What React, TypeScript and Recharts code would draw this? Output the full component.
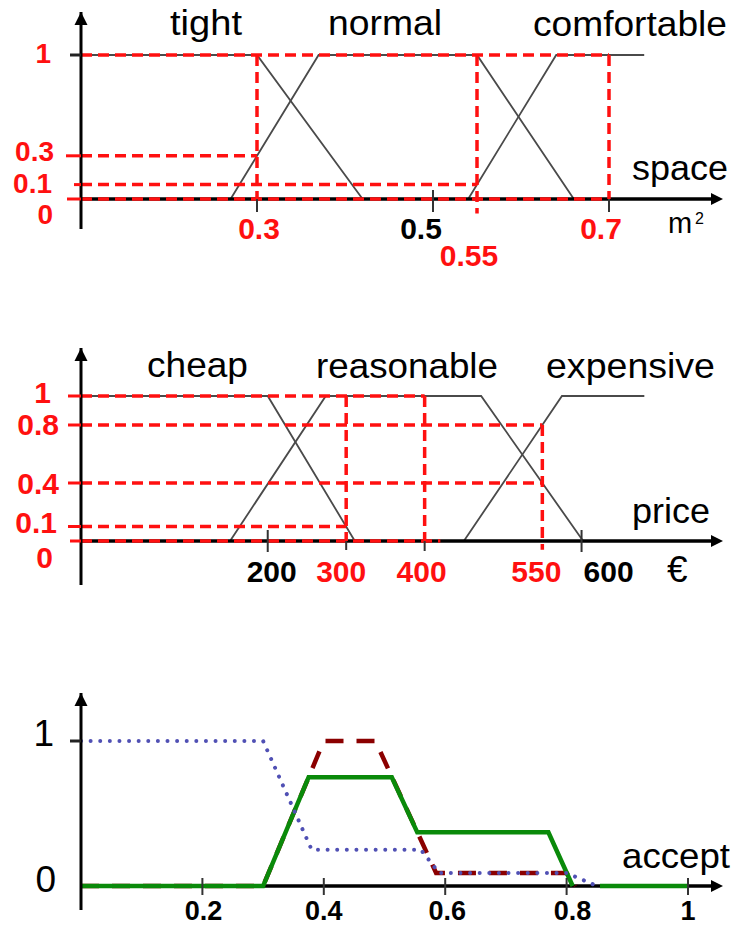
import React from 'react';
import { LineChart, Line, XAxis, YAxis, ReferenceDot } from 'recharts';

type P = { x: number; y: number | null };

// ---------------- space (m²) ----------------
const spaceTerms = ['tight', 'normal', 'comfortable'];
const spaceVar = 'space';
const spaceXTicks = [0.3, 0.5, 0.55, 0.7];
const spaceYTicks = [0, 0.1, 0.3, 1];
const spaceTight: P[] = [{ x: 0.1, y: 1 }, { x: 0.3, y: 1 }, { x: 0.42, y: 0 }];
const spaceNormal: P[] = [{ x: 0.27, y: 0 }, { x: 0.37, y: 1 }, { x: 0.55, y: 1 }, { x: 0.66, y: 0 }];
const spaceComfortable: P[] = [{ x: 0.54, y: 0 }, { x: 0.64, y: 1 }, { x: 0.74, y: 1 }];
const spaceGuides: P[][] = [
  [{ x: 0.1, y: 1 }, { x: 0.7, y: 1 }],
  [{ x: 0.1, y: 0.3 }, { x: 0.3, y: 0.3 }],
  [{ x: 0.1, y: 0.1 }, { x: 0.55, y: 0.1 }],
  [{ x: 0.1, y: 0 }, { x: 0.7, y: 0 }],
  [{ x: 0.3, y: 1 }, { x: 0.3, y: 0 }],
  [{ x: 0.55, y: 1 }, { x: 0.55, y: -0.1 }],
  [{ x: 0.7, y: 1 }, { x: 0.7, y: 0 }],
];

// ---------------- price (€) ----------------
const priceTerms = ['cheap', 'reasonable', 'expensive'];
const priceVar = 'price';
const priceXTicks = [200, 300, 400, 550, 600];
const priceYTicks = [0, 0.1, 0.4, 0.8, 1];
const priceCheap: P[] = [{ x: -38, y: 1 }, { x: 200, y: 1 }, { x: 311, y: 0 }];
const priceReasonable: P[] = [{ x: 152, y: 0 }, { x: 274, y: 1 }, { x: 472, y: 1 }, { x: 602, y: 0 }];
const priceExpensive: P[] = [{ x: 450, y: 0 }, { x: 575, y: 1 }, { x: 680, y: 1 }];
const priceGuides: P[][] = [
  [{ x: -38, y: 1 }, { x: 400, y: 1 }],
  [{ x: -38, y: 0.8 }, { x: 550, y: 0.8 }],
  [{ x: -38, y: 0.4 }, { x: 550, y: 0.4 }],
  [{ x: -38, y: 0.1 }, { x: 300, y: 0.1 }],
  [{ x: -38, y: 0 }, { x: 420, y: 0 }],
  [{ x: 300, y: 1 }, { x: 300, y: 0 }],
  [{ x: 400, y: 1 }, { x: 400, y: 0 }],
  [{ x: 550, y: 0.8 }, { x: 550, y: -0.06 }],
];

// ---------------- accept ----------------
const acceptVar = 'accept';
const acceptXTicks = [0.2, 0.4, 0.6, 0.8, 1];
const acceptYTicks = [0, 1];
const acceptBlue: P[] = [
  { x: 0, y: 1 }, { x: 0.3, y: 1 }, { x: 0.38, y: 0.25 }, { x: 0.56, y: 0.25 },
  { x: 0.59, y: 0.09 }, { x: 0.8, y: 0.09 }, { x: 0.85, y: 0 },
];
const acceptRed: P[] = [
  { x: 0, y: 0 }, { x: 0.3, y: 0 }, { x: 0.4, y: 1 }, { x: 0.485, y: 1 },
  { x: 0.585, y: 0.09 }, { x: 0.8, y: 0.09 }, { x: 0.815, y: 0 },
];
const acceptGreen: P[] = [
  { x: 0, y: 0 }, { x: 0.3, y: 0 }, { x: 0.375, y: 0.75 }, { x: 0.512, y: 0.75 },
  { x: 0.554, y: 0.37 }, { x: 0.77, y: 0.37 }, { x: 0.81, y: 0 },
  { x: 0.835, y: null }, { x: 0.855, y: 0 }, { x: 1.0, y: 0 },
];

// ---------------- styling / layout ----------------
const FONT = '"Liberation Sans", Arial, Helvetica, sans-serif';
const RED = '#ff1010';
const MF = '#4a4a4a';
const W = 731;
const YLAB_FS = 30;
const YLAB_FS1 = 28;

type XTS = { color: string; dx: number; cy: number; up: number; down: number; size: number };
type YTS = { color: string; end: number; dy: number; stub: number; stubColor: string; bold: boolean; size: number };

const C1 = { top: 0, height: 290, plotTop: 12, plotBottom: 229, zeroY: 199, xDomain: [0.1, 0.8284], yDomain: [-0.2083, 1.2986] };
const C2 = { top: 290, height: 320, plotTop: 348, plotBottom: 585, zeroY: 541, xDomain: [-38, 779], yDomain: [-0.3034, 1.331] };
const C3 = { top: 610, height: 317, plotTop: 693, plotBottom: 910, zeroY: 886, xDomain: [0, 1.056], yDomain: [-0.1655, 1.331] };

const spaceXStyle: Record<string, XTS> = {
  '0.3': { color: RED, dx: 2, cy: 228, up: 0, down: 13, size: 30 },
  '0.5': { color: '#000', dx: -12, cy: 228, up: 9, down: 13, size: 30 },
  '0.55': { color: RED, dx: -8, cy: 255, up: 0, down: 0, size: 30 },
  '0.7': { color: RED, dx: -8, cy: 228, up: 0, down: 13, size: 30 },
};
const priceXStyle: Record<string, XTS> = {
  '200': { color: '#000', dx: 4, cy: 571, up: 11, down: 11, size: 30 },
  '300': { color: RED, dx: -5, cy: 571, up: 0, down: 9, size: 30 },
  '400': { color: RED, dx: -3, cy: 571, up: 0, down: 10, size: 30 },
  '550': { color: RED, dx: -6, cy: 571, up: 0, down: 0, size: 30 },
  '600': { color: '#000', dx: 27, cy: 571, up: 11, down: 11, size: 30 },
};
const acceptXStyle: Record<string, XTS> = {
  '0.2': { color: '#000', dx: 1, cy: 910, up: 8, down: 9, size: 27 },
  '0.4': { color: '#000', dx: 0, cy: 910, up: 8, down: 9, size: 27 },
  '0.6': { color: '#000', dx: 2, cy: 910, up: 8, down: 9, size: 27 },
  '0.8': { color: '#000', dx: 6, cy: 910, up: 8, down: 9, size: 27 },
  '1': { color: '#000', dx: 0, cy: 910, up: 8, down: 9, size: 27 },
};

const spaceYStyle: Record<string, YTS> = {
  '1': { color: RED, end: 51, dy: 8, stub: 70, stubColor: '#222', bold: true, size: YLAB_FS1 },
  '0.3': { color: RED, end: 54, dy: 5, stub: 66, stubColor: RED, bold: true, size: YLAB_FS1 },
  '0.1': { color: RED, end: 52, dy: 8, stub: 74, stubColor: RED, bold: true, size: YLAB_FS1 },
  '0': { color: RED, end: 53, dy: 25, stub: 67, stubColor: RED, bold: true, size: YLAB_FS1 },
};
const priceYStyle: Record<string, YTS> = {
  '1': { color: RED, end: 51, dy: 7, stub: 68, stubColor: RED, bold: true, size: YLAB_FS },
  '0.8': { color: RED, end: 59, dy: 10, stub: 68, stubColor: RED, bold: true, size: YLAB_FS },
  '0.4': { color: RED, end: 59, dy: 11, stub: 68, stubColor: RED, bold: true, size: YLAB_FS },
  '0.1': { color: RED, end: 57, dy: 6, stub: 68, stubColor: RED, bold: true, size: YLAB_FS },
  '0': { color: RED, end: 53, dy: 27, stub: 70, stubColor: RED, bold: true, size: YLAB_FS },
};
const acceptYStyle: Record<string, YTS> = {
  '1': { color: '#000', end: 54, dy: 5, stub: 70, stubColor: '#222', bold: false, size: 37 },
  '0': { color: '#000', end: 56, dy: 6, stub: 81, stubColor: '#000', bold: false, size: 37 },
};

function makeXTick(styles: Record<string, XTS>, top: number, zeroY: number) {
  return (props: any) => {
    const { x, payload } = props;
    const key = String(payload.value);
    const s = styles[key];
    if (!s) return <g />;
    const zy = zeroY - top;
    return (
      <g>
        {s.up + s.down > 0 && (
          <line x1={x} x2={x} y1={zy - s.up} y2={zy + s.down} stroke="#333" strokeWidth={2} />
        )}
        <text x={x + s.dx} y={s.cy - top + s.size * 0.36} textAnchor="middle" fill={s.color} fontSize={s.size}
          fontWeight="bold" fontFamily={FONT}>{key}</text>
      </g>
    );
  };
}

function makeYTick(styles: Record<string, YTS>) {
  return (props: any) => {
    const { y, payload } = props;
    const key = String(payload.value);
    const s = styles[key];
    if (!s) return <g />;
    return (
      <g>
        {s.stub < 80 && <line x1={s.stub} x2={81} y1={y} y2={y} stroke={s.stubColor} strokeWidth={3} />}
        <text x={s.end} y={y + s.dy} textAnchor="end" fill={s.color} fontSize={s.size}
          fontWeight={s.bold ? 'bold' : 'normal'} fontFamily={FONT}>{key}</text>
      </g>
    );
  };
}

const ArrowUp = (p: any) => (
  <path d={`M${p.cx},${p.cy} L${p.cx - 6.5},${p.cy + 13} L${p.cx + 6.5},${p.cy + 13} Z`} fill="#000" />
);
const ArrowRight = (p: any) => (
  <path d={`M${p.cx + 1},${p.cy} L${p.cx - 11},${p.cy - 6} L${p.cx - 11},${p.cy + 6} Z`} fill="#000" />
);

function axisLineData(dom: number[]): P[] {
  return [{ x: dom[0], y: 0 }, { x: dom[1] - (dom[1] - dom[0]) * 0.01, y: 0 }];
}

function Frame(props: { c: any; xTicks: number[]; yTicks: number[]; xStyle: Record<string, XTS>; yStyle: Record<string, YTS>; children: React.ReactNode }) {
  const { c } = props;
  const xh = 10;
  const margin = { top: c.plotTop - c.top, right: W - 722, left: 0, bottom: c.top + c.height - c.plotBottom - xh };
  return (
    <div style={{ position: 'absolute', left: 0, top: c.top }}>
      <LineChart width={W} height={c.height} margin={margin}>
        <XAxis type="number" dataKey="x" domain={c.xDomain} allowDataOverflow ticks={props.xTicks} interval={0}
          axisLine={false} tickLine={false} height={xh} tick={makeXTick(props.xStyle, c.top, c.zeroY)} />
        <YAxis type="number" dataKey="y" domain={c.yDomain} allowDataOverflow ticks={props.yTicks} interval={0}
          width={81} axisLine={{ stroke: '#000', strokeWidth: 3 }} tickLine={false} tick={makeYTick(props.yStyle)} />
        {props.children}
        <ReferenceDot x={c.xDomain[0]} y={c.yDomain[1]} r={0} ifOverflow="visible" shape={ArrowUp} />
        <ReferenceDot x={c.xDomain[1]} y={0} r={0} ifOverflow="visible" shape={ArrowRight} />
      </LineChart>
    </div>
  );
}

const common = { dot: false, activeDot: false, isAnimationActive: false, legendType: 'none' as const, dataKey: 'y' };
const DASH = '11 6';

const titles = [
  { t: spaceTerms[0], x: 170, y: 35, w: 72 },
  { t: spaceTerms[1], x: 328, y: 35, w: 114 },
  { t: spaceTerms[2], x: 533, y: 36, w: 194 },
  { t: spaceVar, x: 632, y: 180, w: 96 },
  { t: priceTerms[0], x: 147, y: 377, w: 101 },
  { t: priceTerms[1], x: 316, y: 378, w: 182 },
  { t: priceTerms[2], x: 546, y: 378, w: 169 },
  { t: priceVar, x: 632, y: 523, w: 78 },
  { t: acceptVar, x: 622, y: 868, w: 108 },
];

export default function App() {
  return (
    <div style={{ position: 'absolute', left: 0, top: 0, width: W, height: 927, background: '#fff' }}>
      <Frame c={C1} xTicks={spaceXTicks} yTicks={spaceYTicks} xStyle={spaceXStyle} yStyle={spaceYStyle}>
        <Line {...common} data={spaceTight} stroke={MF} strokeWidth={1.8} />
        <Line {...common} data={spaceNormal} stroke={MF} strokeWidth={1.8} />
        <Line {...common} data={spaceComfortable} stroke={MF} strokeWidth={1.8} />
        <Line {...common} data={axisLineData(C1.xDomain)} stroke="#000" strokeWidth={3.5} />
        {spaceGuides.map((g, i) => (
          <Line key={'sg' + i} {...common} data={g} stroke={RED} strokeWidth={3.5} strokeDasharray={DASH} />
        ))}
      </Frame>
      <Frame c={C2} xTicks={priceXTicks} yTicks={priceYTicks} xStyle={priceXStyle} yStyle={priceYStyle}>
        <Line {...common} data={priceCheap} stroke={MF} strokeWidth={1.8} />
        <Line {...common} data={priceReasonable} stroke={MF} strokeWidth={1.8} />
        <Line {...common} data={priceExpensive} stroke={MF} strokeWidth={1.8} />
        <Line {...common} data={axisLineData(C2.xDomain)} stroke="#000" strokeWidth={3.5} />
        {priceGuides.map((g, i) => (
          <Line key={'pg' + i} {...common} data={g} stroke={RED} strokeWidth={3.5} strokeDasharray={DASH} />
        ))}
      </Frame>
      <Frame c={C3} xTicks={acceptXTicks} yTicks={acceptYTicks} xStyle={acceptXStyle} yStyle={acceptYStyle}>
        <Line {...common} data={axisLineData(C3.xDomain)} stroke="#000" strokeWidth={3.5} />
        <Line {...common} data={acceptRed} stroke="#8b0000" strokeWidth={4.5} strokeDasharray="18 13" />
        <Line {...common} data={acceptGreen} stroke="#0a8a0a" strokeWidth={4.5} />
        <Line {...common} data={acceptBlue} stroke="#5050b4" strokeWidth={4} strokeDasharray="0.01 9.6" strokeLinecap="round" />
      </Frame>
      <svg width={W} height={927} style={{ position: 'absolute', left: 0, top: 0, pointerEvents: 'none' }}>
        {titles.map((t, i) => (
          <text key={i} x={t.x} y={t.y} fontSize={35} fontFamily={FONT} fill="#000" textLength={t.w}
            lengthAdjust="spacingAndGlyphs">{t.t}</text>
        ))}
        <text x={668} y={233} fontSize={29} fontFamily={FONT} fill="#000">m</text>
        <text x={695} y={224} fontSize={16} fontFamily={FONT} fill="#000">2</text>
        <text x={667} y={582} fontSize={37} fontFamily={FONT} fill="#000">€</text>
      </svg>
    </div>
  );
}
